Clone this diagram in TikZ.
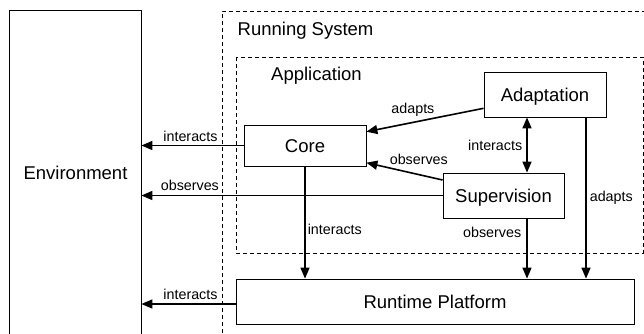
\documentclass[tikz,border=0pt]{standalone}
\usepackage{fontspec}
\setmainfont{Liberation Sans}
\usetikzlibrary{arrows.meta,positioning}
\tikzset{
sysview/.style={>={Triangle[length=11pt,width=9pt]},x=1pt,y=-1pt},
part/.style={draw,line width=0.8pt,minimum width=122pt,minimum height=45pt,
inner sep=0pt,text height=13pt,text depth=0pt,font=\fontsize{18.5}{22}\selectfont},
layer/.style={draw,line width=0.8pt,dash pattern=on 4pt off 3pt},
flow/.style={->,line width=1.6pt},
rel/.style={font=\fontsize{14.3}{17}\selectfont,inner sep=2pt},
caption/.style={font=\fontsize{18.5}{22}\selectfont,inner sep=0pt,anchor=base west},
}

\begin{document}
\begin{tikzpicture}[sysview]
    \useasboundingbox (0,0) rectangle (644,333);

    % frames
    \draw[layer] (222,333) |- (644,11);
    \node[caption] (sys) at (237.5,35) {Running System};
    \draw[layer] (236,57) rectangle (643,253);
    \node[caption] (app) at (271,80.5) {Application};

    % components
    \node[part,minimum height=41pt] (core) at (305,145.5) {Core};
    \node[part] (ada) at (545,94.5) {Adaptation};
    \node[part,minimum width=121pt] (sup) at (503.5,195.5) {Supervision};
    \node[part,minimum width=398pt] (run) at (435,301.5) {Runtime Platform};
    \node[part,draw=none,minimum width=131pt,minimum height=324pt] (env) at (75.5,173) {Environment};
    \draw[line width=0.8pt] (env.south west) |- (env.north east) -- (env.south east);

    \coordinate (bus) at (527,0);
    \coordinate (drop) at (586,0);

    % towards the environment
    \draw[flow] (core.west) -- (core.west -| env.east)
        node[rel,pos=0.52,above=1pt] {interacts};
    \draw[flow] (sup.west) -- (sup.west -| env.east)
        node[rel,pos=0.839,above=2pt] {observes};
    \draw[flow] ([yshift=-2.5pt]run.west) -- ([yshift=-2.5pt]run.west -| env.east)
        node[rel,pos=0.479,above=1.5pt] {interacts};

    % inside the application
    \draw[flow] ([yshift=-13.8pt]ada.west) -- ([yshift=13.8pt]core.east)
        node[rel,pos=0.603,above=3.4pt] {adapts};
    \draw[flow] ([yshift=15.5pt]sup.west) -- ([yshift=-17.2pt]core.east)
        node[rel,pos=0.312,above=7.6pt] {observes};
    \draw[flow,<->] (bus |- ada.south) -- (bus |- sup.north)
        node[rel,midway,left=2pt] {interacts};

    % towards the platform
    \draw[flow] (core.south) -- (core.south |- run.north)
        node[rel,pos=0.56,right=0pt] {interacts};
    \draw[flow] (bus |- sup.south) -- (bus |- run.north)
        node[rel,pos=0.24,left=3pt] {observes};
    \draw[flow] (drop |- ada.south) -- (drop |- run.north)
        node[rel,midway,right=1pt] {adapts};

\end{tikzpicture}
\end{document}
